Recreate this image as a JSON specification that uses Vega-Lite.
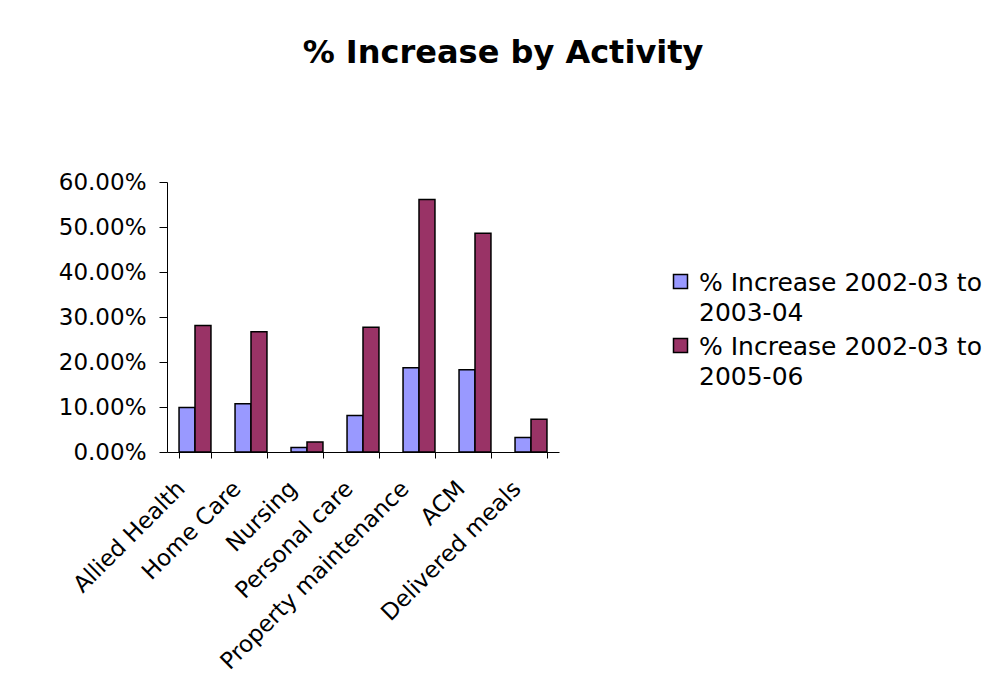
{
  "$schema": "https://vega.github.io/schema/vega-lite/v6.json",
  "width": 392,
  "height": 270,
  "autosize": {"type": "none"},
  "padding": {"left": 167, "top": 182, "right": 426, "bottom": 236},
  "background": "white",
  "title": {
    "text": "% Increase by Activity",
    "font": "DejaVu Sans",
    "fontSize": 32,
    "fontWeight": "bold",
    "color": "black",
    "anchor": "middle",
    "baseline": "alphabetic",
    "dx": 140,
    "offset": 76
  },
  "data": {
    "values": [
      {"activity": "Allied Health", "series": "% Increase 2002-03 to 2003-04", "value": 0.099},
      {"activity": "Allied Health", "series": "% Increase 2002-03 to 2005-06", "value": 0.281},
      {"activity": "Home Care", "series": "% Increase 2002-03 to 2003-04", "value": 0.107},
      {"activity": "Home Care", "series": "% Increase 2002-03 to 2005-06", "value": 0.267},
      {"activity": "Nursing", "series": "% Increase 2002-03 to 2003-04", "value": 0.010},
      {"activity": "Nursing", "series": "% Increase 2002-03 to 2005-06", "value": 0.022},
      {"activity": "Personal care", "series": "% Increase 2002-03 to 2003-04", "value": 0.081},
      {"activity": "Personal care", "series": "% Increase 2002-03 to 2005-06", "value": 0.277},
      {"activity": "Property maintenance", "series": "% Increase 2002-03 to 2003-04", "value": 0.187},
      {"activity": "Property maintenance", "series": "% Increase 2002-03 to 2005-06", "value": 0.561},
      {"activity": "ACM", "series": "% Increase 2002-03 to 2003-04", "value": 0.183},
      {"activity": "ACM", "series": "% Increase 2002-03 to 2005-06", "value": 0.486},
      {"activity": "Delivered meals", "series": "% Increase 2002-03 to 2003-04", "value": 0.032},
      {"activity": "Delivered meals", "series": "% Increase 2002-03 to 2005-06", "value": 0.073}
    ]
  },
  "mark": {"type": "bar", "stroke": "black", "strokeWidth": 1.5},
  "encoding": {
    "x": {
      "field": "activity",
      "type": "nominal",
      "sort": null,
      "scale": {"paddingInner": 0.43, "paddingOuter": 0.215},
      "axis": {
        "title": null,
        "labelAngle": -45,
        "labelFont": "DejaVu Sans",
        "labelFontSize": 23,
        "labelColor": "black",
        "labelPadding": 19,
        "labelOffset": -22,
        "tickBand": "extent",
        "tickSize": 6,
        "tickColor": "black",
        "domainColor": "black",
        "labelLimit": 0
      }
    },
    "xOffset": {"field": "series", "type": "nominal", "scale": {"paddingInner": 0, "paddingOuter": 0}},
    "y": {
      "field": "value",
      "type": "quantitative",
      "scale": {"domain": [0, 0.6], "nice": false},
      "axis": {
        "title": null,
        "format": ".2%",
        "values": [0, 0.1, 0.2, 0.3, 0.4, 0.5, 0.6],
        "grid": false,
        "labelFont": "DejaVu Sans",
        "labelFontSize": 23,
        "labelColor": "black",
        "labelPadding": 13,
        "tickSize": 8,
        "tickColor": "black",
        "domainColor": "black"
      }
    },
    "color": {
      "field": "series",
      "type": "nominal",
      "scale": {"range": ["#9999FF", "#993366"]},
      "legend": {
        "title": null,
        "orient": "none",
        "legendX": 501,
        "legendY": 87,
        "padding": 0,
        "symbolType": "square",
        "symbolSize": 196,
        "symbolStrokeColor": "black",
        "symbolStrokeWidth": 1.5,
        "symbolOpacity": 1,
        "labelFont": "DejaVu Sans",
        "labelFontSize": 25,
        "labelColor": "black",
        "labelOffset": 6,
        "labelLimit": 0,
        "labelBaseline": "top",
        "rowPadding": 7,
        "labelExpr": "[slice(datum.label, 0, 21), slice(datum.label, 22)]",
        "encode": {
          "labels": {"update": {"lineHeight": {"value": 30}, "dy": {"value": -11}}}
        }
      }
    }
  },
  "config": {
    "view": {"stroke": null}
  }
}
